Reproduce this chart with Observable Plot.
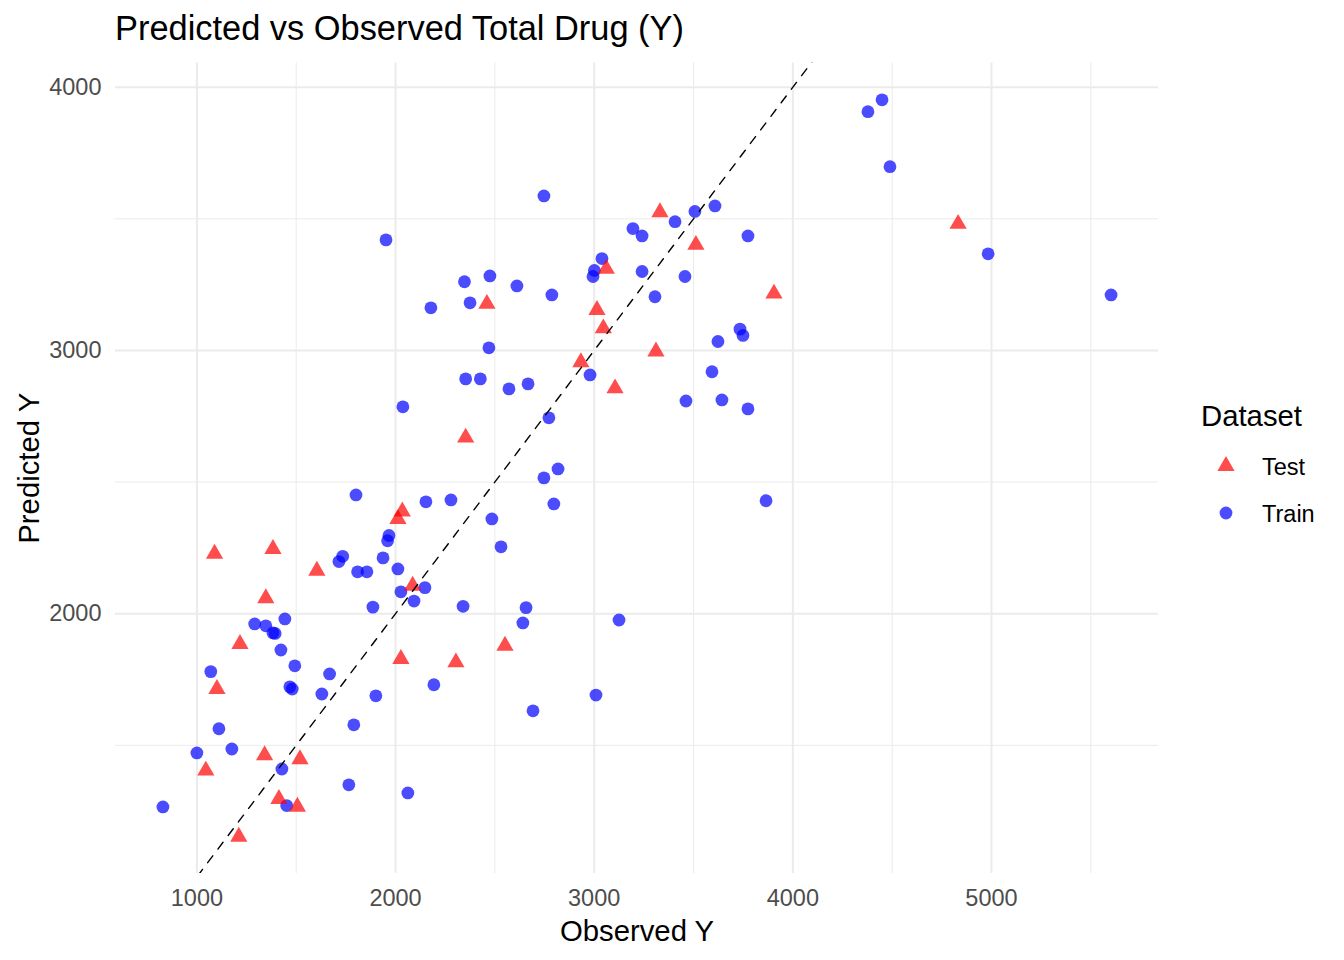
<!DOCTYPE html>
<html>
<head>
<meta charset="utf-8">
<script src="https://cdn.jsdelivr.net/npm/d3@7"></script>
<script src="https://cdn.jsdelivr.net/npm/@observablehq/plot@0.6"></script>
<style>
  body { margin: 0; background: white; }
  #wrap { position: relative; width: 1344px; height: 960px; font-family: "Liberation Sans", Arial, sans-serif; }
  #title { position: absolute; left: 115px; top: 10.8px; font-size: 34.4px; line-height: 35px; white-space: nowrap; color: #000; }
  #chart { position: absolute; left: 0; top: 50px; }
  #legend { position: absolute; left: 0; top: 0; pointer-events: none; }
</style>
</head>
<body>
<div id="wrap">
  <div id="title">Predicted vs Observed Total Drug (Y)</div>
  <div id="chart"></div>
  <svg id="legend" width="1344" height="960"></svg>
</div>
<script>
// ---- data ----
const trainObserved = [829,1000,1070,1111,1176,1291,1347,1383,1394,1423,
  1443,1468,1480,1493,1428,1452,1629,1668,1715,1734,
  1765,1790,1801,1809,1856,1886,1901,1937,1960,1967,
  2012,1952,2037,2027,2093,2148,2153,2062,2193,2178,
  2279,2340,2347,2353,2375,2427,2470,2475,2485,2531,
  2571,2611,2667,2641,2657,2692,2747,2747,2772,2787,
  2797,2818,2979,2994,3001,3009,3039,3125,3195,3241,
  3241,3306,3407,3457,3462,3507,3593,3608,3623,3643,
  3734,3749,3774,3774,3865,4378,4449,4489,4983,5602];
const trainPredicted = [1266,1471,1780,1563,1486,1961,1954,1927,1925,1862,
  1980,1722,1714,1802,1410,1271,1695,1771,2198,2218,
  1350,1578,2451,2159,2159,2025,1688,2212,2277,2297,
  2170,3420,2786,2083,2048,2099,2425,1319,1730,3162,
  2432,2028,3261,2892,3181,2892,3010,3283,2360,2254,
  2854,3245,2873,1965,2023,1631,3587,2516,2744,3211,
  2417,2550,2907,3281,3304,1691,3349,1976,3463,3435,
  3300,3204,3489,3281,2808,3528,2919,3549,3034,2812,
  3081,3057,3435,2778,2429,3907,3952,3698,3367,3211];
const testObserved = [1045,1089,1101,1211,1217,1341,1347,1383,1413,1506,
  1519,1604,2012,2034,2027,2086,2304,2353,2460,2551,
  2933,3014,3046,3061,3105,3311,3331,3512,3905,4832];
const testPredicted = [1404,2228,1714,1153,1885,1462,2059,2246,1296,1267,
  1447,2163,2360,2388,1828,2106,1815,2669,3177,1878,
  2955,3154,3084,3310,2856,2996,3525,3401,3216,3481];
const datasets = ["Test", "Train"];
const datasetColors = ["#FF0000", "#0000FF"];
const datasetSymbols = ["triangle", "circle"];
const xMajorTicks = [1000, 2000, 3000, 4000, 5000];
const xMinorTicks = [1500, 2500, 3500, 4500, 5500];
const yMajorTicks = [2000, 3000, 4000];
const yMinorTicks = [1500, 2500, 3500];

// ---- build table ----
const points = [
  ...trainObserved.map((x, i) => ({observed: x, predicted: trainPredicted[i], set: "Train"})),
  ...testObserved.map((x, i) => ({observed: x, predicted: testPredicted[i], set: "Test"}))
];
function expand(ext) { const d = (ext[1] - ext[0]) * 0.05; return [ext[0] - d, ext[1] + d]; }
const xDomain = expand(d3.extent(points, d => d.observed));
const yDomain = expand(d3.extent(points, d => d.predicted));
const lo = Math.min(xDomain[0], yDomain[0]), hi = Math.max(xDomain[1], yDomain[1]);
const identity = [{v: lo}, {v: hi}];

const FONT = "'Liberation Sans', Arial, sans-serif";
const R = 6.4;

const chart = Plot.plot({
  width: 1344,
  height: 910,
  marginLeft: 115,
  marginRight: 186,
  marginTop: 12.5,
  marginBottom: 87,
  style: {fontFamily: FONT, fontSize: "23.5px", background: "white", overflow: "visible"},
  x: {domain: xDomain},
  y: {domain: yDomain},
  color: {domain: datasets, range: datasetColors},
  symbol: {domain: datasets, range: datasetSymbols},
  marks: [
    Plot.gridX(xMinorTicks, {stroke: "#EBEBEB", strokeOpacity: 1, strokeWidth: 1}),
    Plot.gridY(yMinorTicks, {stroke: "#EBEBEB", strokeOpacity: 1, strokeWidth: 1}),
    Plot.gridX(xMajorTicks, {stroke: "#EBEBEB", strokeOpacity: 1, strokeWidth: 2}),
    Plot.gridY(yMajorTicks, {stroke: "#EBEBEB", strokeOpacity: 1, strokeWidth: 2}),
    Plot.axisX(xMajorTicks, {tickSize: 0, tickPadding: 16, label: null, color: "#4D4D4D", fontSize: 23.5, tickFormat: d => String(d)}),
    Plot.axisY(yMajorTicks, {tickSize: 0, tickPadding: 14, label: null, color: "#4D4D4D", fontSize: 23.5, tickFormat: d => String(d)}),
    Plot.dot(points, {x: "observed", y: "predicted", symbol: "set", fill: "set", fillOpacity: 0.7, stroke: "none", r: R}),
    Plot.line(identity, {x: "v", y: "v", stroke: "black", strokeWidth: 1.4, strokeDasharray: "8.5,8.5", clip: true}),
    Plot.text(["Observed Y"], {frameAnchor: "bottom", lineAnchor: "bottom", dy: 67, text: d => d, fontSize: 29.3, fill: "black"}),
    Plot.text(["Predicted Y"], {frameAnchor: "left", lineAnchor: "bottom", textAnchor: "middle", rotate: -90, dx: -77, text: d => d, fontSize: 29.3, fill: "black"})
  ]
});
document.getElementById("chart").appendChild(chart);

// ---- legend ----
const lg = d3.select("#legend");
lg.append("text").attr("x", 1201).attr("y", 426).attr("font-family", FONT).attr("font-size", 29.3).attr("fill", "black").text("Dataset");
const keyY = [466, 513], labelY = [475, 521.7];
datasets.forEach((name, i) => {
  const sym = datasetSymbols[i] === "triangle" ? d3.symbolTriangle : d3.symbolCircle;
  lg.append("path")
    .attr("d", d3.symbol(sym, Math.PI * R * R)())
    .attr("transform", `translate(1226,${keyY[i]})`)
    .attr("fill", datasetColors[i]).attr("fill-opacity", 0.7);
  lg.append("text").attr("x", 1262).attr("y", labelY[i]).attr("font-family", FONT).attr("font-size", 23.5).attr("fill", "black").text(name);
});
</script>
</body>
</html>
